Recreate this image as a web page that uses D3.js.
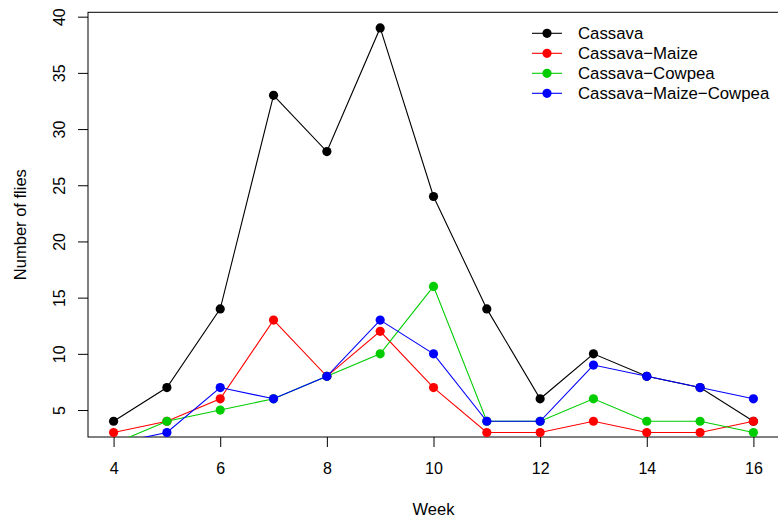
<!DOCTYPE html>
<html>
<head>
<meta charset="utf-8">
<script src="https://cdn.jsdelivr.net/npm/d3@7"></script>
<style>
  body { margin: 0; background: #fff; }
  svg text { font-family: "Liberation Sans", Arial, Helvetica, sans-serif; font-size: 16px; fill: #000; }
</style>
</head>
<body>
<svg id="chart" width="778" height="518"></svg>
<script>
// weeks after planting
var weeks = [4, 5, 6, 7, 8, 9, 10, 11, 12, 13, 14, 15, 16];

// flies counted per week, one array per cropping system
var cassava           = [4, 7, 14, 33, 28, 39, 24, 14, 6, 10, 8, 7, 4];
var cassavaMaize      = [3, 4, 6, 13, 8, 12, 7, 3, 3, 4, 3, 3, 4];
var cassavaCowpea     = [2, 4, 5, 6, 8, 10, 16, 4, 4, 6, 4, 4, 3];
var cassavaMaizeCowpea = [2, 3, 7, 6, 8, 13, 10, 4, 4, 9, 8, 7, 6];

var seriesNames = ["Cassava", "Cassava\u2212Maize", "Cassava\u2212Cowpea", "Cassava\u2212Maize\u2212Cowpea"];
var seriesValues = [cassava, cassavaMaize, cassavaCowpea, cassavaMaizeCowpea];
var seriesColors = ["#000000", "#ff0000", "#00cd00", "#0000ff"];

var xTicks = [4, 6, 8, 10, 12, 14, 16];
var yTicks = [5, 10, 15, 20, 25, 30, 35, 40];

var svg = d3.select("#chart");

// plot region (R-style, right side runs just past the window)
var pLeft = 88, pRight = 779, pTop = 12.3, pBottom = 437;

var x = d3.scaleLinear().domain([3.52, 16.48]).range([pLeft, pRight]);
var y = d3.scaleLinear().domain([2.6, 40.39]).range([pBottom, pTop]);

svg.append("clipPath").attr("id", "plotclip")
  .append("rect")
  .attr("x", pLeft).attr("y", pTop)
  .attr("width", pRight - pLeft).attr("height", pBottom - pTop);

// axes
var xAxis = d3.axisBottom(x).tickValues(xTicks).tickSize(10).tickPadding(0).tickFormat(d3.format("d"));
var gx = svg.append("g").attr("transform", "translate(0," + pBottom + ")").call(xAxis);
gx.select(".domain").remove();
gx.selectAll("line").attr("stroke", "#000");
gx.selectAll("text").attr("dy", null).attr("y", 37.3).style("font-size", "16px");

var yAxis = d3.axisLeft(y).tickValues(yTicks).tickSize(10).tickFormat(d3.format("d"));
var gy = svg.append("g").attr("transform", "translate(" + pLeft + ",0)").call(yAxis);
gy.select(".domain").remove();
gy.selectAll("line").attr("stroke", "#000");
// tick groups are already translated to y(d); just rotate the labels R-style
gy.selectAll("text")
  .attr("x", null).attr("dy", null).attr("y", 0)
  .attr("text-anchor", "middle")
  .attr("transform", "translate(-23,0) rotate(-90)")
  .style("font-size", "16px");

// box
svg.append("rect")
  .attr("x", pLeft).attr("y", pTop)
  .attr("width", pRight - pLeft).attr("height", pBottom - pTop)
  .attr("fill", "none").attr("stroke", "#000").attr("stroke-width", 1);

// axis titles
svg.append("text")
  .attr("x", (pLeft + pRight) / 2).attr("y", 515)
  .attr("text-anchor", "middle")
  .style("font-size", "16.5px")
  .text("Week");

svg.append("text")
  .attr("transform", "translate(26," + ((pTop + pBottom) / 2) + ") rotate(-90)")
  .attr("text-anchor", "middle")
  .style("font-size", "16.5px")
  .text("Number of flies");

// series
var plot = svg.append("g").attr("clip-path", "url(#plotclip)");
var line = d3.line().x(function(d, i) { return x(weeks[i]); }).y(function(d) { return y(d); });

seriesValues.forEach(function(vals, s) {
  var g = plot.append("g");
  g.append("path")
    .datum(vals)
    .attr("d", line)
    .attr("fill", "none")
    .attr("stroke", seriesColors[s])
    .attr("stroke-width", 1.1);
  g.selectAll("circle")
    .data(vals)
    .enter().append("circle")
    .attr("cx", function(d, i) { return x(weeks[i]); })
    .attr("cy", function(d) { return y(d); })
    .attr("r", 4.6)
    .attr("fill", seriesColors[s]);
});

// legend
var legend = svg.append("g");
seriesNames.forEach(function(name, i) {
  var cy = 33.3 + i * 20;
  legend.append("line")
    .attr("x1", 532).attr("x2", 562)
    .attr("y1", cy).attr("y2", cy)
    .attr("stroke", seriesColors[i]).attr("stroke-width", 1.1);
  legend.append("circle")
    .attr("cx", 547).attr("cy", cy).attr("r", 4.6)
    .attr("fill", seriesColors[i]);
  legend.append("text")
    .attr("x", 578).attr("y", cy).attr("dy", "0.36em")
    .style("font-size", "16.8px")
    .text(name);
});
</script>
</body>
</html>
